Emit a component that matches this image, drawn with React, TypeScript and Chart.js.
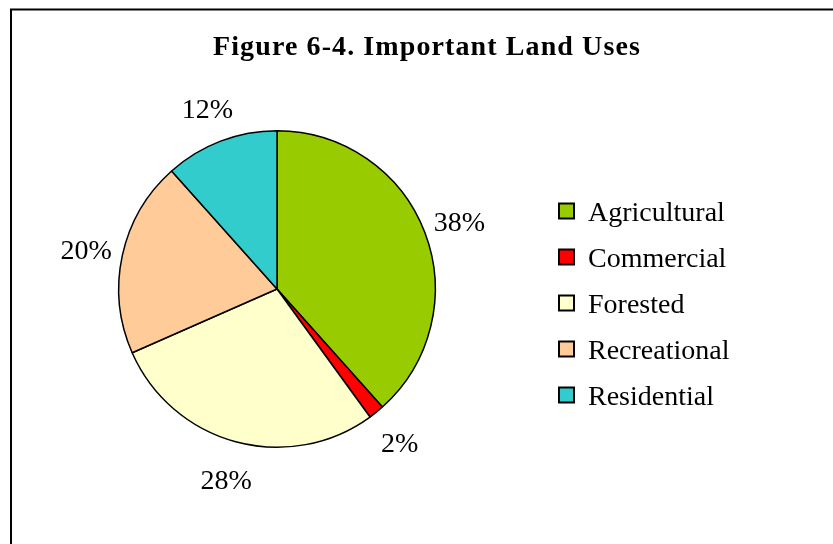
import React, { useEffect, useRef } from "react";
import { Chart, registerables } from "chart.js";

Chart.register(...registerables);

const categories = ["Agricultural", "Commercial", "Forested", "Recreational", "Residential"];
const values = [38.4, 1.6, 28.4, 20.0, 11.6];
const percentLabels = ["38%", "2%", "28%", "20%", "12%"];
const colors = ["#99CC00", "#FF0000", "#FFFFCC", "#FFCC99", "#33CCCC"];
const titleText = "Figure 6-4. Important Land Uses";

const FONT = "'Liberation Serif', 'Times New Roman', serif";

const framePlugin = {
  id: "frame",
  beforeDraw(chart: any) {
    const ctx = chart.ctx;
    ctx.save();
    ctx.fillStyle = "#ffffff";
    ctx.fillRect(0, 0, chart.width, chart.height);
    ctx.strokeStyle = "#000000";
    ctx.lineWidth = 2;
    ctx.strokeRect(11, 9.5, chart.width + 50, chart.height + 50);
    // title
    ctx.fillStyle = "#000000";
    ctx.font = `bold 28px ${FONT}`;
    try {
      (ctx as any).letterSpacing = "1.1px";
    } catch (e) {}
    ctx.textAlign = "center";
    ctx.textBaseline = "alphabetic";
    ctx.fillText(titleText, 427, 55);
    try {
      (ctx as any).letterSpacing = "0px";
    } catch (e) {}
    ctx.restore();
  },
};

const labelsPlugin = {
  id: "pctLabels",
  afterDatasetsDraw(chart: any) {
    const ctx = chart.ctx;
    const meta = chart.getDatasetMeta(0);
    ctx.save();
    ctx.fillStyle = "#000000";
    ctx.font = `28px ${FONT}`;
    ctx.textAlign = "center";
    ctx.textBaseline = "middle";
    meta.data.forEach((arc: any, i: number) => {
      const { x, y, startAngle, endAngle, outerRadius } = arc.getProps(
        ["x", "y", "startAngle", "endAngle", "outerRadius"],
        true
      );
      const mid = (startAngle + endAngle) / 2;
      const d = outerRadius + 37;
      ctx.fillText(percentLabels[i], x + Math.cos(mid) * d, y + Math.sin(mid) * d + 4);
    });
    // legend
    const rowGap = 46;
    const top = 211;
    categories.forEach((c, i) => {
      const cy = top + i * rowGap;
      ctx.fillStyle = colors[i];
      ctx.fillRect(559, cy - 7.5, 15, 15);
      ctx.strokeStyle = "#000000";
      ctx.lineWidth = 2;
      ctx.strokeRect(559, cy - 7.5, 15, 15);
      ctx.fillStyle = "#000000";
      ctx.textAlign = "left";
      ctx.textBaseline = "alphabetic";
      ctx.fillText(c, 588, cy + 10);
    });
    ctx.restore();
  },
};

export default function App() {
  const ref = useRef<HTMLCanvasElement | null>(null);
  useEffect(() => {
    if (!ref.current) return;
    const chart = new Chart(ref.current, {
      type: "pie",
      data: {
        labels: categories,
        datasets: [
          {
            data: values,
            backgroundColor: colors,
            borderColor: "#000000",
            borderWidth: 1.5,
          },
        ],
      },
      options: {
        animation: false,
        responsive: false,
        devicePixelRatio: 1,
        layout: { padding: { left: 118, right: 397, top: 130, bottom: 96 } },
        plugins: {
          legend: { display: false },
          title: { display: false },
          tooltip: { enabled: false },
        },
      },
      plugins: [framePlugin, labelsPlugin],
    });
    return () => chart.destroy();
  }, []);
  return (
    <div style={{ position: "fixed", left: 0, top: 0, width: 833, height: 544, overflow: "hidden", background: "#fff" }}>
      <canvas ref={ref} width={833} height={544} style={{ display: "block", width: 833, height: 544 }} />
    </div>
  );
}
